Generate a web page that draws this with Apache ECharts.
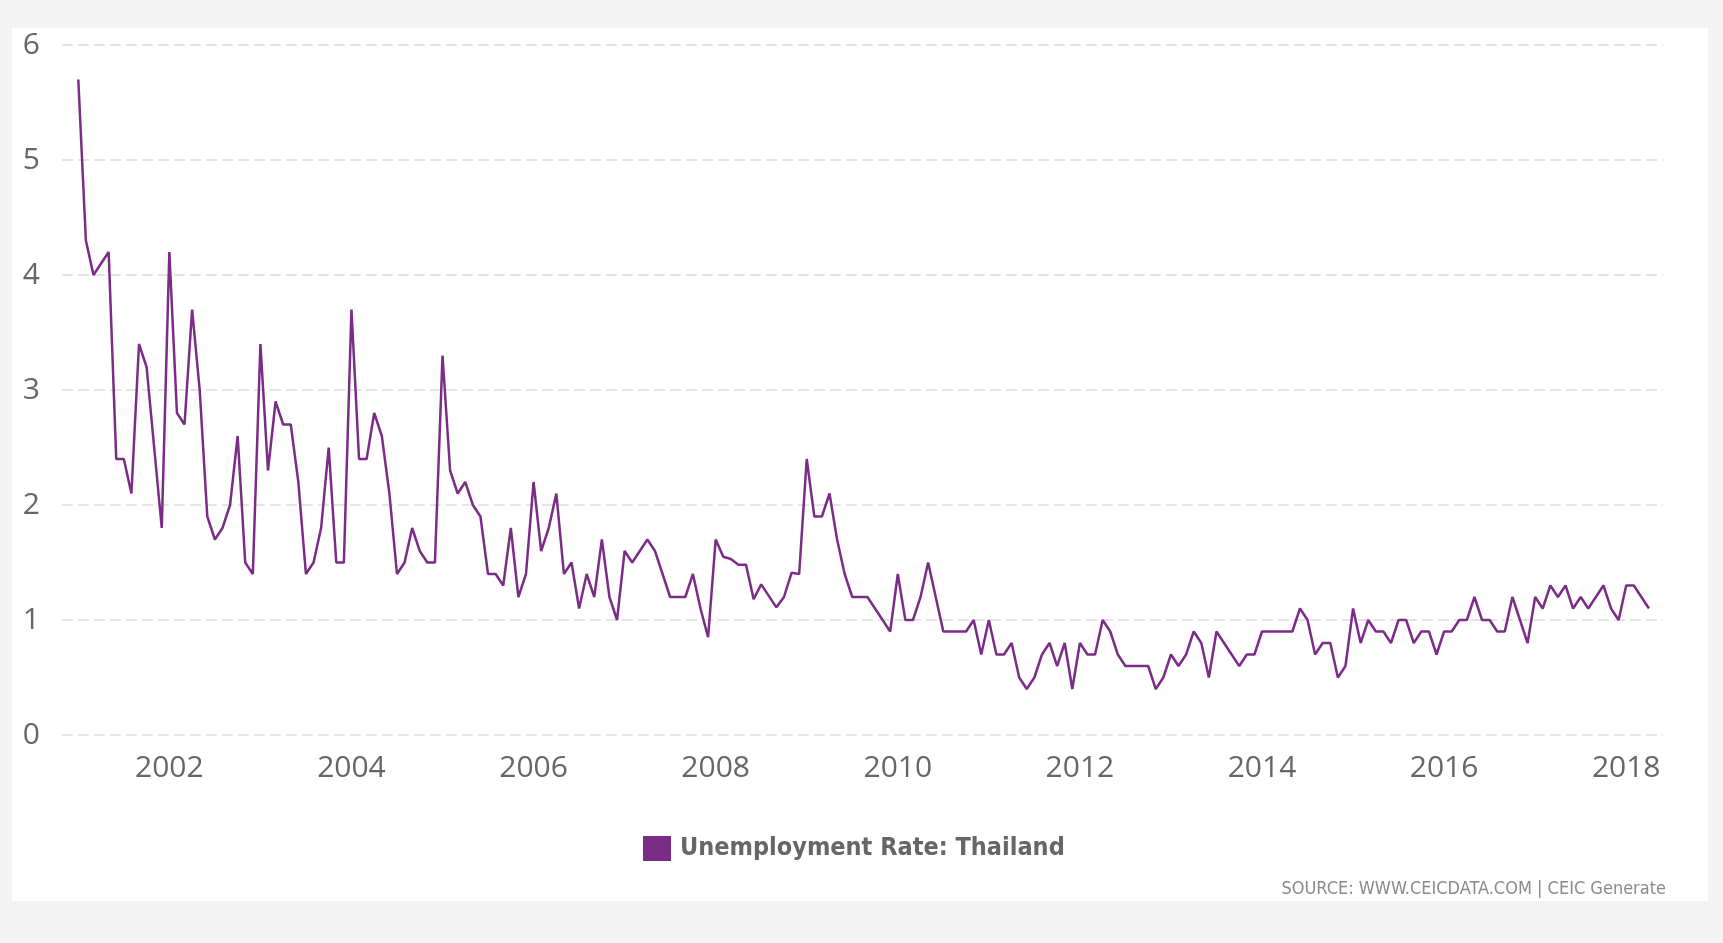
<!DOCTYPE html>
<html>
<head>
<meta charset="utf-8">
<script src="https://cdn.jsdelivr.net/npm/echarts@6/dist/echarts.min.js"></script>
<style>
  html, body { margin: 0; padding: 0; background: #f4f4f4; }
  #panel { position: absolute; left: 12px; top: 28px; width: 1696px; height: 873px; background: #ffffff; }
  #chart { position: absolute; left: 0; top: 0; width: 1723px; height: 943px; }
</style>
</head>
<body>
<div id="panel"></div>
<div id="chart"></div>
<script>
// Monthly unemployment rate, Thailand, Jan 2001 - Apr 2018 (%)
const startYear = 2001;
const startMonth = 1;
const seriesName = 'Unemployment Rate: Thailand';
const values = [
  5.7, 4.3, 4.0, 4.1, 4.2, 2.4, 2.4, 2.1, 3.4, 3.2, 2.5, 1.8,
  4.2, 2.8, 2.7, 3.7, 3.0, 1.9, 1.7, 1.8, 2.0, 2.6, 1.5, 1.4,
  3.4, 2.3, 2.9, 2.7, 2.7, 2.2, 1.4, 1.5, 1.8, 2.5, 1.5, 1.5,
  3.7, 2.4, 2.4, 2.8, 2.6, 2.1, 1.4, 1.5, 1.8, 1.6, 1.5, 1.5,
  3.3, 2.3, 2.1, 2.2, 2.0, 1.9, 1.4, 1.4, 1.3, 1.8, 1.2, 1.4,
  2.2, 1.6, 1.8, 2.1, 1.4, 1.5, 1.1, 1.4, 1.2, 1.7, 1.2, 1.0,
  1.6, 1.5, 1.6, 1.7, 1.6, 1.4, 1.2, 1.2, 1.2, 1.4, 1.1, 0.85,
  1.7, 1.55, 1.53, 1.48, 1.48, 1.18, 1.31, 1.21, 1.11, 1.2, 1.41, 1.4,
  2.4, 1.9, 1.9, 2.1, 1.7, 1.4, 1.2, 1.2, 1.2, 1.1, 1.0, 0.9,
  1.4, 1.0, 1.0, 1.2, 1.5, 1.2, 0.9, 0.9, 0.9, 0.9, 1.0, 0.7,
  1.0, 0.7, 0.7, 0.8, 0.5, 0.4, 0.5, 0.7, 0.8, 0.6, 0.8, 0.4,
  0.8, 0.7, 0.7, 1.0, 0.9, 0.7, 0.6, 0.6, 0.6, 0.6, 0.4, 0.5,
  0.7, 0.6, 0.7, 0.9, 0.8, 0.5, 0.9, 0.8, 0.7, 0.6, 0.7, 0.7,
  0.9, 0.9, 0.9, 0.9, 0.9, 1.1, 1.0, 0.7, 0.8, 0.8, 0.5, 0.6,
  1.1, 0.8, 1.0, 0.9, 0.9, 0.8, 1.0, 1.0, 0.8, 0.9, 0.9, 0.7,
  0.9, 0.9, 1.0, 1.0, 1.2, 1.0, 1.0, 0.9, 0.9, 1.2, 1.0, 0.8,
  1.2, 1.1, 1.3, 1.2, 1.3, 1.1, 1.2, 1.1, 1.2, 1.3, 1.1, 1.0,
  1.3, 1.3, 1.2, 1.1
];
const xTickLabels = [2002, 2004, 2006, 2008, 2010, 2012, 2014, 2016, 2018];
const yTicks = [0, 1, 2, 3, 4, 5, 6];

// month strings derived from the start month
const months = values.map((v, i) => {
  const t = (startMonth - 1) + i;
  const y = startYear + Math.floor(t / 12);
  const m = (t % 12) + 1;
  return y + '-' + String(m).padStart(2, '0');
});
// position of each month on a decimal-year axis
const seriesData = months.map((s, i) => {
  const [y, m] = s.split('-').map(Number);
  return [y + (m - 1) / 12, values[i]];
});

const narrowFont = "'Liberation Sans Narrow', 'DejaVu Sans Condensed', Roboto, sans-serif";

const chart = echarts.init(document.getElementById('chart'), null, { renderer: 'canvas' });
chart.setOption({
  backgroundColor: 'transparent',
  animation: false,
  title: {
    text: 'SOURCE: WWW.CEICDATA.COM | CEIC Generate',
    right: 52,
    top: 875,
    textStyle: {
      fontFamily: narrowFont,
      fontSize: 18,
      fontWeight: 'normal',
      color: '#8a8a8a'
    }
  },
  legend: {
    data: [seriesName],
    left: 638,
    top: 831,
    icon: 'rect',
    itemWidth: 28,
    itemHeight: 25,
    itemGap: 10,
    textStyle: {
      fontFamily: narrowFont,
      fontSize: 25,
      fontWeight: 'bold',
      color: '#666666',
      padding: [0, 0, 0, 4]
    }
  },
  grid: { left: 62, right: 60, top: 45, bottom: 208, containLabel: false },
  xAxis: {
    type: 'value',
    min: 2000.821,
    max: 2018.404,
    axisLine: { show: false },
    axisTick: { show: false },
    splitLine: { show: false },
    axisLabel: {
      customValues: xTickLabels,
      margin: 18,
      fontFamily: "'Open Sans', sans-serif",
      fontSize: 30,
      color: '#666666',
      formatter: v => String(Math.round(v))
    }
  },
  yAxis: {
    type: 'value',
    min: 0,
    max: 6,
    interval: 1,
    axisLine: { show: false },
    axisTick: { show: false },
    axisLabel: {
      margin: 22,
      fontFamily: "'Open Sans', sans-serif",
      fontSize: 30,
      color: '#666666'
    },
    splitLine: {
      show: true,
      lineStyle: { color: '#e4e4e4', width: 2, type: [11, 5] }
    }
  },
  series: [{
    name: seriesName,
    type: 'line',
    data: seriesData,
    showSymbol: false,
    symbol: 'none',
    itemStyle: { color: '#7b2c87' },
    lineStyle: { color: '#7b2c87', width: 2.5 }
  }]
});
</script>
</body>
</html>
